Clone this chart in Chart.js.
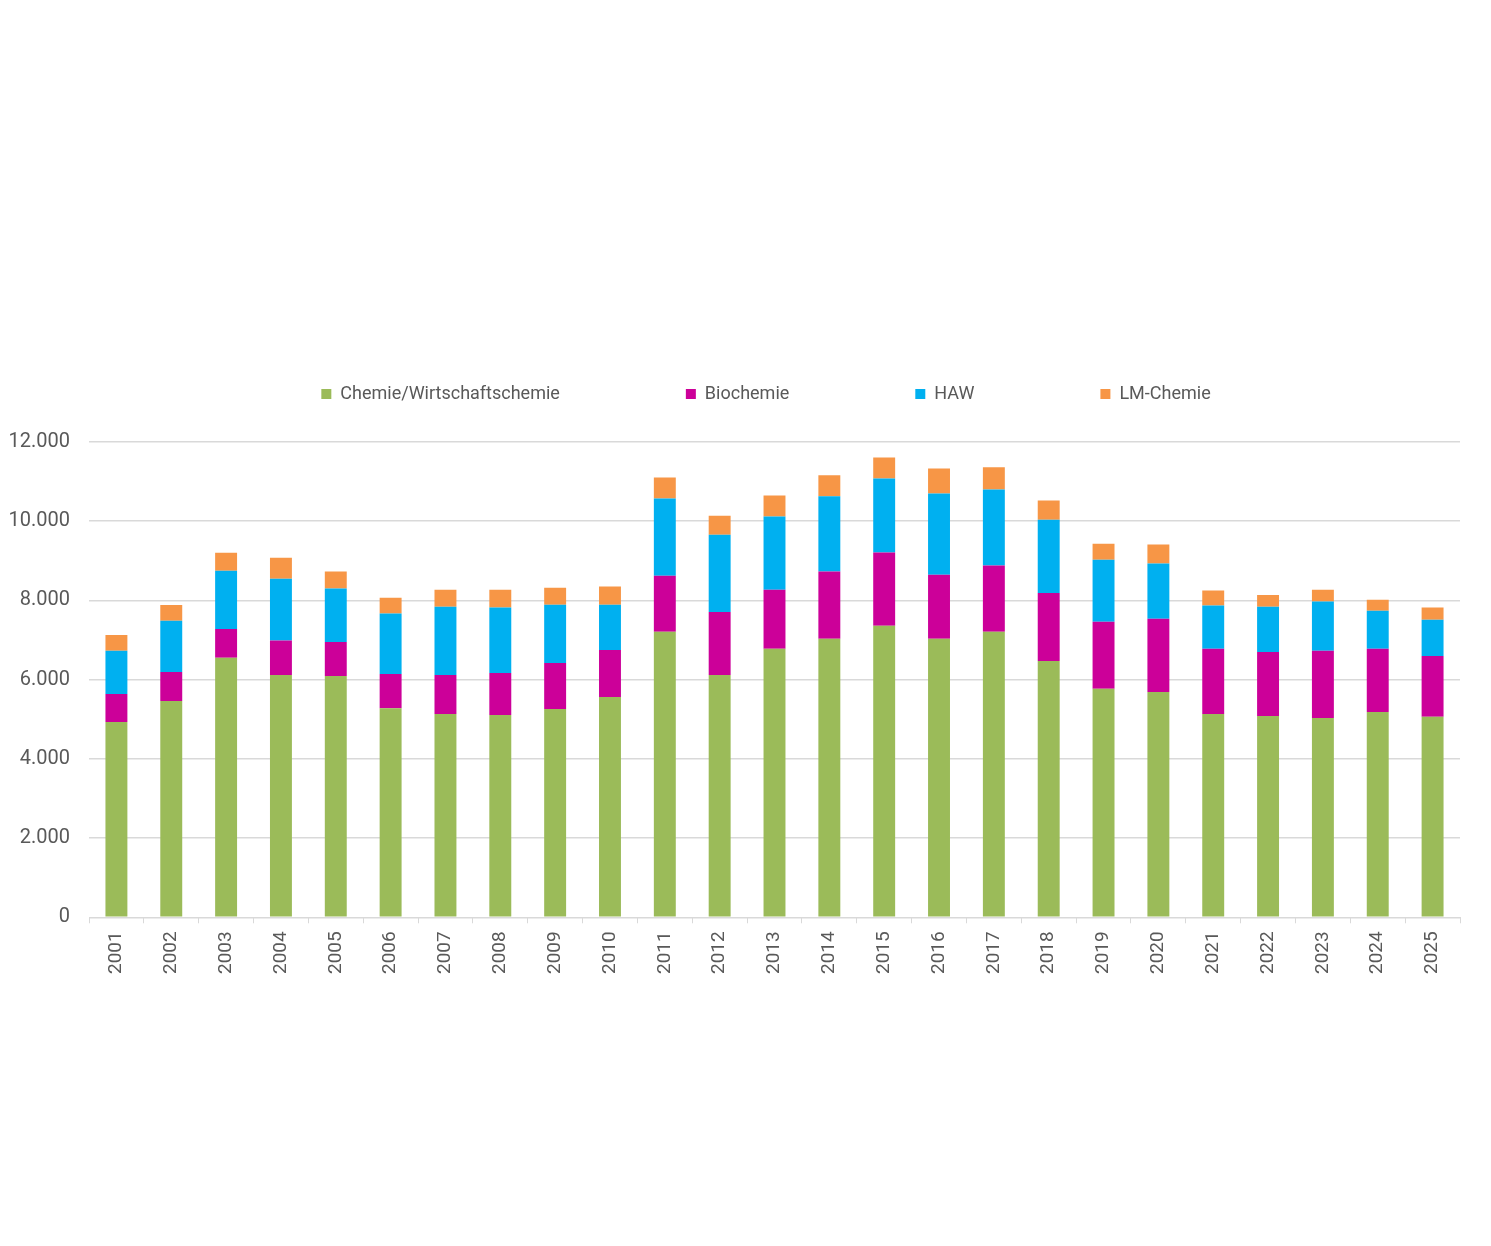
<!DOCTYPE html>
<html>
<head>
<meta charset="utf-8">
<script src="https://cdn.jsdelivr.net/npm/chart.js@4"></script>
<style>
  html, body { margin: 0; padding: 0; background: #fff; }
  #wrap { width: 1491px; height: 1246px; }
</style>
</head>
<body>
<div id="wrap"><canvas id="chart" width="1491" height="1246"></canvas></div>
<script>
const YEARS = ['2001','2002','2003','2004','2005','2006','2007','2008','2009','2010','2011','2012','2013',
               '2014','2015','2016','2017','2018','2019','2020','2021','2022','2023','2024','2025'];

const CHEMIE    = [4930,5460,6550,6120,6090,5280,5130,5110,5260,5560,7210,6120,6780,7030,7360,7030,7210,6470,5770,5690,5130,5080,5030,5180,5060];
const BIOCHEMIE = [710,735,730,870,860,860,990,1060,1160,1190,1415,1590,1490,1700,1850,1620,1670,1720,1690,1850,1650,1620,1700,1600,1540];
const HAW       = [1090,1295,1470,1560,1350,1530,1720,1650,1470,1140,1950,1950,1850,1900,1870,2050,1920,1850,1570,1390,1090,1140,1240,960,910];
const LM_CHEMIE = [400,395,455,530,430,400,430,450,430,460,530,480,530,530,530,630,560,480,400,480,380,300,300,280,310];

const Y_MAX  = 12000;
const Y_STEP = 2000;

const GRID  = '#d9d9d9';
const TEXT  = '#595959';

// legend: fixed height above the plot, row nudged a bit to the right
const legendTweak = {
  id: 'legendTweak',
  beforeInit(chart) {
    const legend = chart.legend;
    const fit = legend.fit;
    legend.fit = function () {
      fit.call(this);
      this.height = 183;
    };
    const draw = legend.draw;
    legend.draw = function () {
      const ctx = this.ctx;
      ctx.save();
      ctx.translate(32, 0);
      draw.call(this);
      ctx.restore();
    };
  }
};

const fmt = v => String(v).replace(/\B(?=(\d{3})+(?!\d))/g, '.');

new Chart(document.getElementById('chart'), {
  type: 'bar',
  data: {
    labels: YEARS,
    datasets: [
      { label: 'Chemie/Wirtschaftschemie', data: CHEMIE,    backgroundColor: '#9BBB59' },
      { label: 'Biochemie',                data: BIOCHEMIE, backgroundColor: '#CC0099' },
      { label: 'HAW',                      data: HAW,       backgroundColor: '#00B0F0' },
      { label: 'LM-Chemie',                data: LM_CHEMIE, backgroundColor: '#F79646' }
    ]
  },
  options: {
    responsive: false,
    animation: false,
    datasets: { bar: { barPercentage: 0.4, categoryPercentage: 1.0, borderWidth: 0 } },
    layout: { padding: { top: 259, left: 8, right: 31, bottom: 264 } },
    plugins: {
      tooltip: { enabled: false },
      legend: {
        position: 'top',
        labels: {
          color: TEXT,
          font: { family: 'Roboto', size: 18 },
          boxWidth: 10,
          boxHeight: 10,
          padding: 126
        }
      }
    },
    scales: {
      x: {
        stacked: true,
        border: { display: true, color: GRID, width: 1 },
        grid: { offset: true, drawOnChartArea: false, color: GRID, tickLength: 6 },
        ticks: {
          color: TEXT,
          font: { family: 'Roboto', size: 19 },
          maxRotation: 90,
          minRotation: 90,
          padding: 8
        }
      },
      y: {
        stacked: true,
        min: 0,
        max: Y_MAX,
        border: { display: false },
        grid: { color: GRID, lineWidth: 1.5, drawTicks: false },
        ticks: {
          stepSize: Y_STEP,
          color: TEXT,
          font: { family: 'Roboto', size: 20 },
          padding: 19,
          callback: v => fmt(v)
        },
        afterFit(scale) { scale.width = 81; }
      }
    }
  },
  plugins: [legendTweak]
});
</script>
</body>
</html>
